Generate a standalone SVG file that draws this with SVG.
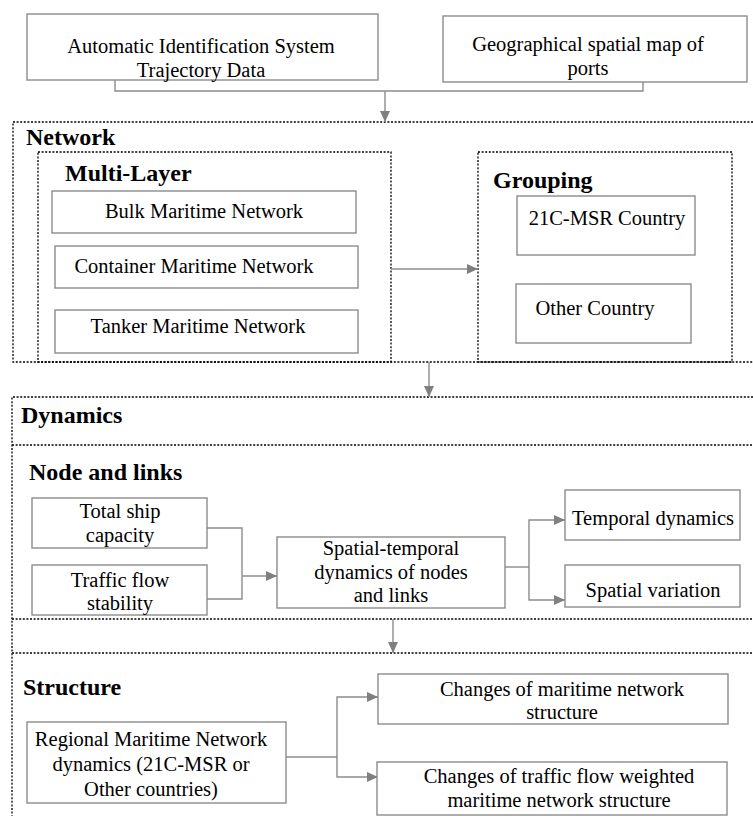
<svg xmlns="http://www.w3.org/2000/svg" width="753" height="816" viewBox="0 0 753 816">
<defs>
<marker id="ah" markerUnits="userSpaceOnUse" markerWidth="12" markerHeight="10" refX="11" refY="5" orient="auto">
<path d="M0,0 L11,5 L0,10 Z" fill="#7f7f7f"/>
</marker>
<style>
.box{fill:#fff;stroke:#8c8c8c;stroke-width:1.4}
.dot{fill:none;stroke:#000;stroke-width:1.3;stroke-dasharray:2 1.6}
.t{font-size:20.5px;fill:#000;text-anchor:middle}
.h{font-size:24px;font-weight:bold;fill:#000}
.c{fill:none;stroke:#8c8c8c;stroke-width:1.4}
.a{fill:none;stroke:#8c8c8c;stroke-width:1.4;marker-end:url(#ah)}
</style>
</defs>
<rect width="753" height="816" fill="#fff"/>

<g font-family="'Liberation Serif', 'DejaVu Serif', serif">
<g id="frames">
<path class="dot" d="M753,122 H13 V362 H753"/>
<rect class="dot" x="38" y="152" width="353" height="210"/>
<rect class="dot" x="478" y="152" width="254" height="210"/>
<path class="dot" d="M753,397 H12 V816"/>
<path class="dot" d="M12,445 H753"/>
<path class="dot" d="M12,619 H753"/>
<path class="dot" d="M12,653 H753"/>
<text class="h" x="26" y="145">Network</text>
<text class="h" x="65" y="181">Multi-Layer</text>
<text class="h" x="493" y="188">Grouping</text>
<text class="h" x="21" y="423">Dynamics</text>
<text class="h" x="29" y="480">Node and links</text>
<text class="h" x="23" y="695">Structure</text>
</g>

<g id="connectors">
<path class="c" d="M115,80 V91 H643 V82"/>
<path class="a" d="M385,91 V122"/>
<path class="a" d="M391,269 H478"/>
<path class="a" d="M429,362 V397"/>
<path class="c" d="M207,528 H242 V599 H207"/>
<path class="a" d="M242,576 H277"/>
<path class="c" d="M505,567 H529"/>
<path class="a" d="M529,567 V520 H565"/>
<path class="a" d="M529,567 V600 H565"/>
<path class="a" d="M393,619 V653"/>
<path class="c" d="M286,757 H337"/>
<path class="a" d="M337,757 V697 H378"/>
<path class="a" d="M337,757 V777 H378"/>
</g>

<g id="ais">
<rect class="box" x="27" y="14" width="351" height="66"/>
<text class="t" x="201" y="53">Automatic Identification System</text>
<text class="t" x="201" y="77">Trajectory Data</text>
</g>
<g id="geo">
<rect class="box" x="443" y="16" width="304" height="66"/>
<text class="t" x="588" y="51">Geographical spatial map of</text>
<text class="t" x="588" y="75">ports</text>
</g>
<g id="bulk">
<rect class="box" x="52" y="191" width="304" height="42"/>
<text class="t" x="204" y="218">Bulk Maritime Network</text>
</g>
<g id="container">
<rect class="box" x="55" y="246" width="303" height="42"/>
<text class="t" x="194" y="273">Container Maritime Network</text>
</g>
<g id="tanker">
<rect class="box" x="55" y="310" width="303" height="43"/>
<text class="t" x="198" y="333">Tanker Maritime Network</text>
</g>
<g id="msr">
<rect class="box" x="517" y="196" width="178" height="59"/>
<text class="t" x="607" y="225">21C-MSR Country</text>
</g>
<g id="other">
<rect class="box" x="516" y="284" width="175" height="59"/>
<text class="t" x="595" y="315">Other Country</text>
</g>
<g id="capacity">
<rect class="box" x="32" y="498" width="175" height="50"/>
<text class="t" x="120" y="518">Total ship</text>
<text class="t" x="120" y="542">capacity</text>
</g>
<g id="stability">
<rect class="box" x="32" y="565" width="175" height="50"/>
<text class="t" x="120" y="587">Traffic flow</text>
<text class="t" x="120" y="610">stability</text>
</g>
<g id="spatiotemporal">
<rect class="box" x="277" y="537" width="228" height="71"/>
<text class="t" x="391" y="555">Spatial-temporal</text>
<text class="t" x="391" y="579">dynamics of nodes</text>
<text class="t" x="391" y="602">and links</text>
</g>
<g id="temporal">
<rect class="box" x="565" y="490" width="175" height="50"/>
<text class="t" x="653" y="525">Temporal dynamics</text>
</g>
<g id="spatialvar">
<rect class="box" x="565" y="565" width="175" height="42"/>
<text class="t" x="653" y="597">Spatial variation</text>
</g>
<g id="regional">
<rect class="box" x="27" y="722" width="259" height="81"/>
<text class="t" x="151" y="746">Regional Maritime Network</text>
<text class="t" x="151" y="771">dynamics (21C-MSR or</text>
<text class="t" x="151" y="796">Other countries)</text>
</g>
<g id="changes1">
<rect class="box" x="378" y="674" width="350" height="50"/>
<text class="t" x="562" y="696">Changes of maritime network</text>
<text class="t" x="562" y="719">structure</text>
</g>
<g id="changes2">
<rect class="box" x="377" y="762" width="350" height="53"/>
<text class="t" x="559" y="783">Changes of traffic flow weighted</text>
<text class="t" x="559" y="807">maritime network structure</text>
</g>
</g>
</svg>
